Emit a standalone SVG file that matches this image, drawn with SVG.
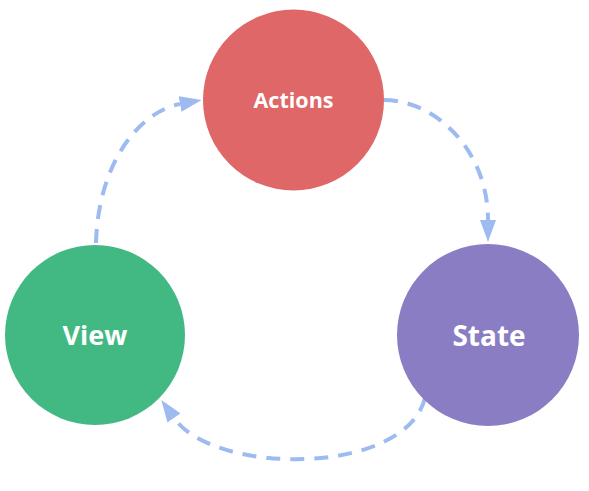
<svg xmlns="http://www.w3.org/2000/svg" width="589" height="491" viewBox="0 0 589 491">
<style>
.lbl{font-family:"Open Sans","Noto Sans","DejaVu Sans",sans-serif;font-weight:700;fill:#ffffff;text-anchor:middle}
.conn{fill:none;stroke:#9dbbf0;stroke-width:4;stroke-dasharray:14 10}
</style>
<defs>
<marker id="arr" markerUnits="userSpaceOnUse" markerWidth="24" markerHeight="16" refX="0" refY="8" orient="auto">
<path d="M0,0 L22,8 L0,16 Z" fill="#9dbbf0"/>
</marker>
</defs>
<rect width="589" height="491" fill="#ffffff"/>
<g id="connectors">
<path class="conn" d="M96,243 C98,165 138,112 180,104" marker-end="url(#arr)"/>
<path class="conn" d="M384,100 C435,100 488,150 488,220" marker-end="url(#arr)"/>
<path class="conn" d="M425,398 C405,476 215,476 174,418" marker-end="url(#arr)"/>
</g>
<g id="actions">
<circle cx="293.5" cy="100" r="90.5" fill="#e06767"/>
<text class="lbl" x="293.5" y="108" font-size="21.5">Actions</text>
</g>
<g id="view">
<circle cx="95" cy="335" r="90" fill="#42b983"/>
<text class="lbl" x="95" y="345" font-size="27">View</text>
</g>
<g id="state">
<circle cx="488" cy="335" r="91" fill="#8a7dc4"/>
<text class="lbl" x="489" y="346" font-size="28">State</text>
</g>
</svg>
